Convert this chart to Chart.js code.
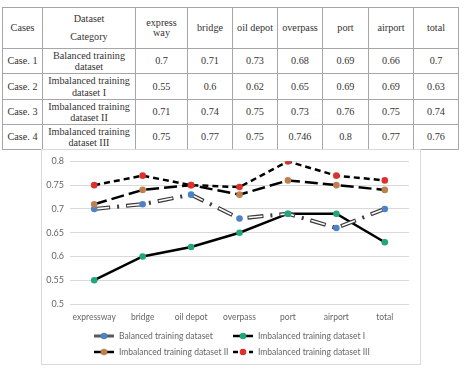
<!DOCTYPE html>
<html><head><meta charset="utf-8">
<script src="https://cdn.jsdelivr.net/npm/chart.js@4.4.1/dist/chart.umd.min.js"></script>
<style>
html,body{margin:0;padding:0;background:#fff;width:464px;height:369px;overflow:hidden;}
#tbl{position:absolute;left:2px;top:7px;border-collapse:collapse;table-layout:fixed;width:457px;font-family:"Liberation Serif","Tinos","DejaVu Serif",serif;font-size:10.2px;color:#333;}
#tbl td{border:1px solid #a6a6a6;text-align:center;vertical-align:middle;padding:0;line-height:11.5px;overflow:hidden;}
#box{position:absolute;left:41px;top:149px;width:378px;height:214px;border:1px solid #d9d9d9;}
canvas{display:block;}
</style></head><body>
<table id="tbl"></table>
<div id="box"><canvas id="c" width="378" height="214"></canvas></div>
<script>
// ---- data ----
const categories = ["expressway", "bridge", "oil depot", "overpass", "port", "airport", "total"];
const tableHeaders = ["express way", "bridge", "oil depot", "overpass", "port", "airport", "total"];
const caseLabels = ["Case. 1", "Case. 2", "Case. 3", "Case. 4"];
const datasetNames = ["Balanced training dataset", "Imbalanced training dataset I", "Imbalanced training dataset II", "Imbalanced training dataset III"];
const balanced = [0.7, 0.71, 0.73, 0.68, 0.69, 0.66, 0.7];
const imbalancedI = [0.55, 0.6, 0.62, 0.65, 0.69, 0.69, 0.63];
const imbalancedII = [0.71, 0.74, 0.75, 0.73, 0.76, 0.75, 0.74];
const imbalancedIII = [0.75, 0.77, 0.75, 0.746, 0.8, 0.77, 0.76];
const yTicks = [0.5, 0.55, 0.6, 0.65, 0.7, 0.75, 0.8];

const series = [balanced, imbalancedI, imbalancedII, imbalancedIII];

// ---- table ----
const colWidths = [40, 93, 52, 45, 45, 45, 46, 45, 45];
const rowHeights = [41, 25, 26, 25, 25];
const tbl = document.getElementById('tbl');
const cg = document.createElement('colgroup');
colWidths.forEach(w => { const c = document.createElement('col'); c.style.width = w + 'px'; cg.appendChild(c); });
tbl.appendChild(cg);
const hr = document.createElement('tr'); hr.style.height = rowHeights[0] + 'px';
const addCell = (tr, html, lh) => { const td = document.createElement('td'); td.innerHTML = html; if (lh) td.style.lineHeight = lh; tr.appendChild(td); return td; };
addCell(hr, 'Cases');
addCell(hr, 'Dataset<br>Category', '18px');
tableHeaders.forEach((h, i) => { const td = addCell(hr, h, '10.5px'); if (i === 0) td.style.padding = '0 6px'; });
tbl.appendChild(hr);
series.forEach((vals, i) => {
  const tr = document.createElement('tr'); tr.style.height = rowHeights[i + 1] + 'px';
  addCell(tr, caseLabels[i]);
  addCell(tr, datasetNames[i]);
  vals.forEach(v => addCell(tr, String(v)));
  tbl.appendChild(tr);
});

// ---- chart ----
const styles = [
  { color: '#4f81c6', line: '#3c3c3c', width: 4, dash: [16, 7, 2, 7] },
  { color: '#1fa67a', line: '#000000', width: 2.5, dash: [] },
  { color: '#bf8050', line: '#000000', width: 2.5, dash: [13, 5] },
  { color: '#e0302e', line: '#000000', width: 2.5, dash: [6, 4] }
];

const datasets = [];
series.forEach((vals, i) => {
  datasets.push({ label: datasetNames[i], data: vals, borderColor: styles[i].line, borderWidth: styles[i].width,
    borderDash: styles[i].dash, pointRadius: 0, tension: 0, fill: false, order: 20 + i });
});
// hollow inner stroke of the balanced series
datasets.push({ label: '_inner', data: balanced, borderColor: '#ffffff', borderWidth: 1.6, borderDash: [14, 18],
  borderDashOffset: -1, pointRadius: 0, tension: 0, fill: false, order: 10 });
series.forEach((vals, i) => {
  datasets.push({ label: '_pts' + i, data: vals, showLine: false, pointRadius: 3.3, pointHoverRadius: 3.3,
    pointBackgroundColor: styles[i].color, pointBorderColor: styles[i].color, pointBorderWidth: 0, order: 4 - i });
});

const legendPlugin = {
  id: 'customLegend',
  afterDraw(chart) {
    const ctx = chart.ctx;
    ctx.save();
    const cols = [52, 191], rows = [186, 202];
    datasetNames.forEach((name, i) => {
      const x = cols[i % 2], y = rows[Math.floor(i / 2)];
      ctx.beginPath();
      ctx.lineWidth = i === 0 ? 3 : 2.5;
      ctx.strokeStyle = i === 0 ? '#595959' : '#000';
      ctx.setLineDash(i === 3 ? [5, 3] : []);
      ctx.moveTo(x, y); ctx.lineTo(x + 20, y); ctx.stroke();
      ctx.setLineDash([]);
      ctx.beginPath(); ctx.fillStyle = styles[i].color; ctx.arc(x + 10, y, 3.3, 0, Math.PI * 2); ctx.fill();
      ctx.fillStyle = '#666'; ctx.font = '8.5px Lato'; ctx.textBaseline = 'middle'; ctx.textAlign = 'left';
      ctx.fillText(name, x + 25, y + 0.5);
    });
    ctx.restore();
  }
};

new Chart(document.getElementById('c'), {
  type: 'line',
  data: { labels: categories, datasets },
  plugins: [legendPlugin],
  options: {
    responsive: false, animation: false, devicePixelRatio: 1,
    layout: { padding: { left: 0, right: 11, top: 10, bottom: 30 } },
    plugins: { legend: { display: false }, tooltip: { enabled: false } },
    scales: {
      x: {
        offset: true,
        grid: { display: false },
        border: { display: false },
        ticks: { color: '#666', font: { family: 'Lato', size: 8.5 }, padding: 0, maxRotation: 0, autoSkip: false },
        afterFit(s) { s.height = 30; }
      },
      y: {
        min: 0.5, max: 0.8,
        afterBuildTicks(s) { s.ticks = yTicks.map(v => ({ value: v })); },
        grid: { color: '#d9d9d9', drawTicks: false },
        border: { display: false },
        ticks: { color: '#666', font: { family: 'Lato', size: 9 }, padding: 6, callback: v => String(v) },
        afterFit(s) { s.width = 28; }
      }
    }
  }
});
</script>
</body></html>
